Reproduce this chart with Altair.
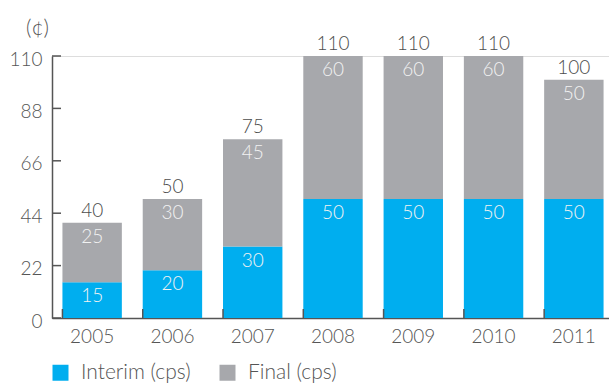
import altair as alt
import pandas as pd

years = ["2005", "2006", "2007", "2008", "2009", "2010", "2011"]
interim = [15, 20, 30, 50, 50, 50, 50]
final = [25, 30, 45, 60, 60, 60, 50]
totals = [40, 50, 75, 110, 110, 110, 100]
series = ["Interim (cps)", "Final (cps)"]
colors = ["#00AEEF", "#A7A8AC"]
y_ticks = [0, 22, 44, 66, 88, 110]

rows = []
for i, yr in enumerate(years):
    rows.append(dict(year=yr, series=series[0], value=interim[i], order=0))
    rows.append(dict(year=yr, series=series[1], value=final[i], order=1))
df = pd.DataFrame(rows)
tot = pd.DataFrame(dict(year=years, total=totals))
ticks_df = pd.DataFrame(dict(v=y_ticks))

FONT = "Lato"
FS = 19
LFS = 21
AX = "#555555"

W, H = 557, 262
xscale = alt.Scale(domain=years, range=[0, 562], paddingInner=0.26, paddingOuter=0.13)
yscale = alt.Scale(domain=[0, 110], nice=False, zero=True)

base = alt.Chart(df).transform_stack(
    stack="value", groupby=["year"], as_=["y0", "y1"], sort=[alt.SortField("order")]
)

bars = base.mark_bar().encode(
    x=alt.X("year:N", scale=xscale, title=None,
            axis=alt.Axis(labelAngle=0, ticks=False, domainColor=AX, domainWidth=1.5,
                          labelFont=FONT, labelFontSize=FS, labelColor=AX, labelPadding=9,
                          labelFontWeight=300)),
    y=alt.Y("y1:Q", scale=yscale,
            axis=alt.Axis(values=y_ticks, ticks=False, grid=False, domainColor=AX, domainWidth=1.5,
                          labelFont=FONT, labelFontSize=FS, labelColor=AX, labelPadding=10,
                          labelFontWeight=300, labelOffset=3,
                          title="(¢)", titleAngle=0, titleX=-15, titleY=-28, titleAlign="center",
                          titleFont=FONT, titleFontSize=LFS, titleColor=AX, titleFontWeight=300,
                          titleBaseline="middle")),
    y2="y0:Q",
    color=alt.Color("series:N", scale=alt.Scale(domain=series, range=colors),
                    legend=alt.Legend(orient="none", legendX=-2, legendY=306, direction="horizontal",
                                      title=None, symbolType="square", symbolSize=256,
                                      symbolStrokeWidth=0, labelFont=FONT, labelFontSize=LFS,
                                      labelColor=AX, labelOffset=10, columnPadding=26,
                                      labelFontWeight=300)),
)

inner = base.mark_text(font=FONT, fontSize=FS, color="#F2F2F2", baseline="middle", dy=14,
                       fontWeight=300).encode(
    x=alt.X("year:N", scale=xscale),
    y=alt.Y("y1:Q", scale=yscale),
    text="value:Q",
)

top = alt.Chart(tot).mark_text(font=FONT, fontSize=FS, color="#4D4D4D", baseline="middle", dy=-12,
                               fontWeight=300).encode(
    x=alt.X("year:N", scale=xscale),
    y=alt.Y("total:Q", scale=yscale),
    text="total:Q",
)

ytick = alt.Chart(ticks_df).mark_rule(color=AX, strokeWidth=1.5).encode(
    y=alt.Y("v:Q", scale=yscale),
    x=alt.value(0),
    x2=alt.value(9),
)

xtick = alt.Chart(tot).mark_rule(color=AX, strokeWidth=1.5).encode(
    x=alt.X("year:N", scale=xscale, bandPosition=0),
    y=alt.value(H),
    y2=alt.value(H - 9),
)

chart = alt.layer(bars, inner, top, ytick, xtick).properties(
    width=W, height=H,
    autosize=alt.AutoSizeParams(type="none"),
    padding={"left": 52, "top": 56, "right": 0, "bottom": 65},
).configure_view(stroke=None).configure(background="white")

chart.save("out.html", embed_options={"renderer": "svg", "actions": False})
